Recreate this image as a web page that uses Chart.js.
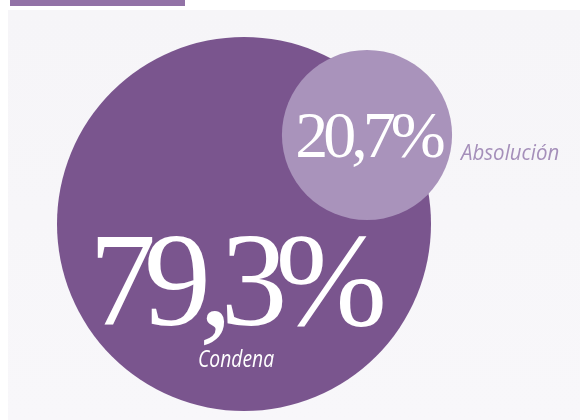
<!DOCTYPE html>
<html>
<head>
<meta charset="utf-8">
<script src="https://cdn.jsdelivr.net/npm/chart.js@4"></script>
<style>
  html, body { margin: 0; padding: 0; background: #ffffff; }
  #wrap { width: 580px; height: 420px; position: relative; }
</style>
</head>
<body>
<div id="wrap"><canvas id="mainChart" width="580" height="420"></canvas></div>
<script>
// Sentencias: share of verdicts
const categories = ['Condena', 'Absolución'];
const shares = [79.3, 20.7];
const valueLabels = ['79,3%', '20,7%'];

// where each bubble sits on the (hidden) 580 x 420 layout grid
const bubbleX = [244, 367];
const bubbleY = [224, 135];

const colors = ['#7a558e', '#a993bb'];
const FULL_RADIUS = 187; // radius for the whole (100%)

// biggest share gets the full disc, the rest scale by area
const maxShare = Math.max(...shares);
const radiusFor = (v) => FULL_RADIUS * (v === maxShare ? 1 : Math.sqrt(v / 100));

// narrow italic labels, squeezed horizontally
const drawNarrow = (ctx, text, x, y, sx) => {
    ctx.save();
    ctx.translate(x, y);
    ctx.scale(sx, 1);
    ctx.fillText(text, 0, 0);
    ctx.restore();
};

const panelPlugin = {
    id: 'panel',
    beforeDraw: (chart) => {
        const ctx = chart.ctx;
        ctx.save();
        const grad = ctx.createLinearGradient(0, 10, 0, 420);
        grad.addColorStop(0, '#f6f5f8');
        grad.addColorStop(1, '#f8f7fa');
        ctx.fillStyle = grad;
        ctx.fillRect(8, 10, 572, 410);
        ctx.fillStyle = '#9272a6';
        ctx.fillRect(10, 0, 175, 6);
        ctx.restore();
    }
};

const labelPlugin = {
    id: 'bubbleLabels',
    afterDatasetsDraw: (chart) => {
        const ctx = chart.ctx;
        const meta = chart.getDatasetMeta(0);
        ctx.save();
        ctx.textBaseline = 'alphabetic';

        // big bubble
        const big = meta.data[0];
        ctx.fillStyle = '#ffffff';
        ctx.textAlign = 'center';
        ctx.font = "134px 'Liberation Serif', serif";
        ctx.letterSpacing = '-12px';
        ctx.fillText(valueLabels[0], big.x - 12, big.y + 101);
        ctx.letterSpacing = '0px';
        ctx.font = "italic 23px 'Open Sans', sans-serif";
        drawNarrow(ctx, categories[0], big.x - 8, big.y + 143, 0.84);

        // small bubble
        const small = meta.data[1];
        ctx.font = "66px 'Liberation Serif', serif";
        ctx.letterSpacing = '-5px';
        ctx.fillText(valueLabels[1], small.x + 1, small.y + 22);
        ctx.letterSpacing = '0px';
        ctx.textAlign = 'left';
        ctx.fillStyle = '#a58fba';
        ctx.font = "italic 22px 'Open Sans', sans-serif";
        drawNarrow(ctx, categories[1], 461, small.y + 25, 0.93);
        ctx.restore();
    }
};

new Chart(document.getElementById('mainChart'), {
    type: 'bubble',
    data: {
        labels: categories,
        datasets: [{
            data: shares.map((v, i) => ({ x: bubbleX[i], y: bubbleY[i], r: radiusFor(v) })),
            backgroundColor: colors,
            borderWidth: 0,
            hoverRadius: 0,
            clip: false
        }]
    },
    options: {
        responsive: false,
        animation: false,
        layout: { padding: 0, autoPadding: false },
        plugins: {
            legend: { display: false },
            tooltip: { enabled: false }
        },
        scales: {
            x: { type: 'linear', min: 0, max: 580, display: false },
            y: { type: 'linear', min: 0, max: 420, reverse: true, display: false }
        }
    },
    plugins: [panelPlugin, labelPlugin]
});
</script>
</body>
</html>
